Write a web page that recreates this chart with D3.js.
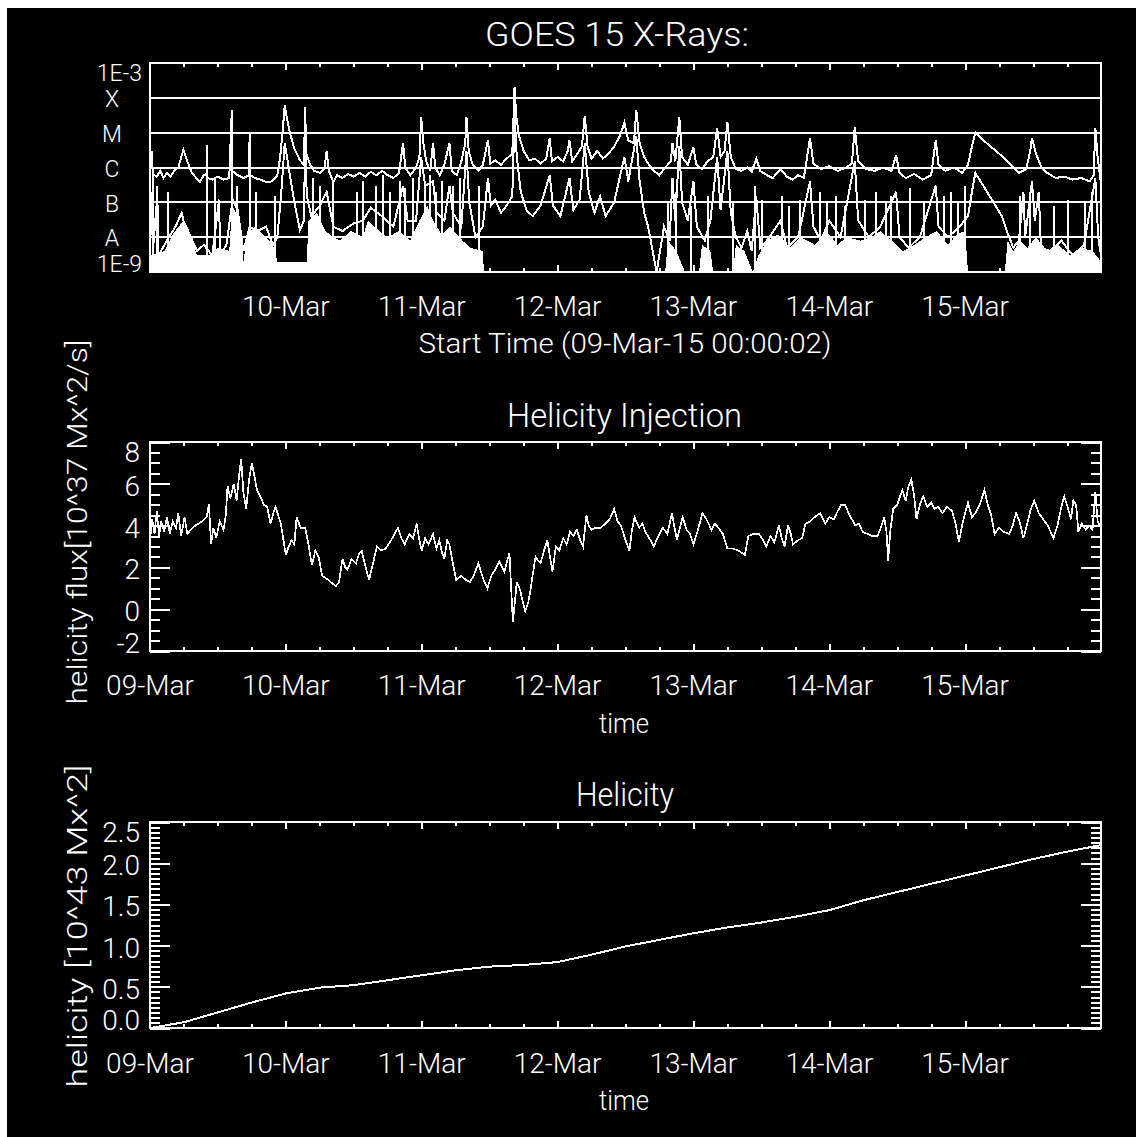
<!DOCTYPE html>
<html>
<head>
<meta charset="utf-8">
<script src="https://cdn.jsdelivr.net/npm/d3@7"></script>
<style>
  body { margin: 0; background: #fff; }
  svg text { font-family: Roboto, "DejaVu Sans", sans-serif; font-weight: 300; fill: #fff; }
</style>
</head>
<body>
<div id="chart"></div>
<script>
/* GOES X-rays + helicity injection + helicity, 09-16 Mar 2015 */

const width = 1136,
  height = 1137;

const START = Date.UTC(2015, 2, 9); // 09-Mar-15 00:00
const hour = h => new Date(START + h * 3600e3);

// tick labels
const dayHours = [0, 24, 48, 72, 96, 120, 144];
const dayLabels = ["09-Mar", "10-Mar", "11-Mar", "12-Mar", "13-Mar", "14-Mar", "15-Mar"];
const goesBands = ["X", "M", "C", "B", "A"];
const goesBandFlux = [1e-4, 1e-5, 1e-6, 1e-7, 1e-8];
const injTicks = [-2, 0, 2, 4, 6, 8];
const helTicks = [0, 0.5, 1, 1.5, 2, 2.5];
const helTickLabels = ["0.0", "0.5", "1.0", "1.5", "2.0", "2.5"];

// GOES 1-8 A channel [hours from start, W/m^2]
const goesLong = [
  [0, 6e-7], [0.3, 3e-6], [0.5, 6.5e-7], [1.2, 5.5e-7], [1.8, 8e-7], [2.4, 5e-7], [3, 7e-7], [3.6, 5.5e-7],
  [4.3, 8e-7], [5, 1e-6], [5.9, 3.2e-6], [6.6, 1.5e-6], [7.4, 7e-7], [8.8, 3.8e-7], [9.5, 6e-7], [10, 6.5e-7],
  [10.05, 4.5e-6], [10.1, 1e-9], [10.15, 5e-7], [11, 4.5e-7], [12, 5.5e-7], [13, 4.5e-7], [14, 5e-7],
  [14.45, 4.5e-5], [14.5, 1e-9], [14.55, 8e-7], [15.5, 6e-7], [16.5, 5e-7], [17.5, 6e-7], [17.6, 1e-5],
  [17.65, 1e-9], [17.7, 6e-7], [18.5, 5e-7], [19.5, 4.5e-7], [20.6, 3.8e-7], [21.5, 4e-7], [22.5, 6e-7],
  [23, 2e-6], [23.5, 1.5e-5], [23.8, 6e-5], [24.2, 2.5e-5], [24.7, 1e-5], [25.5, 3.5e-6], [26.5, 1.6e-6],
  [27.2, 1.2e-6], [27.4, 5.5e-5], [27.6, 2.5e-6], [28.3, 1.2e-6], [29, 8e-7], [30, 7e-7], [30.8, 9e-7],
  [31.2, 3e-6], [31.6, 8e-7], [32.4, 3.8e-7], [33, 6e-7], [34, 5e-7], [35, 6.5e-7], [36, 5.5e-7], [37, 7e-7],
  [38, 5.5e-7], [39, 7.5e-7], [40, 6e-7], [41, 8e-7], [42, 6e-7], [43, 5e-7], [44, 7e-7], [44.7, 5e-6],
  [45.1, 1e-6], [46, 6e-7], [47, 1e-6], [47.6, 2e-6], [47.9, 2.8e-5], [48.3, 5e-6], [48.8, 1.5e-6],
  [49.5, 8e-7], [50, 5e-6], [50.4, 1e-6], [51.2, 6e-7], [52, 1.2e-6], [52.9, 5e-6], [53.3, 8e-7],
  [54.2, 6e-7], [55, 1.5e-6], [55.7, 5e-6], [55.9, 2.8e-5], [56.3, 3e-6], [57, 1.2e-6], [58, 8e-7],
  [58.8, 1.2e-6], [59.7, 6e-6], [60.1, 1.3e-6], [61, 1.6e-6], [62, 1.2e-6], [63, 1.8e-6], [64, 2.5e-6],
  [64.4, 2e-4], [64.7, 3e-5], [65.2, 8e-6], [66, 3e-6], [67, 1.6e-6], [68, 1.8e-6], [69, 1.3e-6],
  [70, 1.8e-6], [70.6, 7e-6], [71, 1.5e-6], [72, 2e-6], [73, 1.5e-6], [73.8, 3e-6], [74.1, 6e-6], [74.6, 1.5e-6],
  [75.5, 2.5e-6], [76.3, 4e-6], [76.8, 3e-5], [77.3, 4e-6], [78, 1.8e-6], [79, 3e-6], [80, 1.8e-6], [81, 2.5e-6],
  [82, 4e-6], [83, 8e-6], [83.8, 1.9e-5], [84.5, 6e-6], [85.5, 5e-6], [85.9, 4.5e-5], [86.5, 5e-6],
  [87.3, 2e-6], [88, 1.3e-6], [89, 8e-7], [90, 6e-7], [91, 1e-6], [92, 1.5e-6], [92.3, 5e-6], [92.8, 1.5e-6],
  [93.5, 2.8e-5], [94, 2e-6], [95, 1.2e-6], [96, 3.8e-6], [96.5, 1.2e-6], [97.5, 9e-7], [98.5, 1.5e-6],
  [99.5, 2e-6], [100.2, 1.35e-5], [100.8, 2e-6], [101.5, 3e-6], [102, 2e-5], [102.6, 2e-6], [103.5, 9e-7],
  [104.5, 8e-7], [105.5, 1e-6], [106.3, 7.5e-7], [107.1, 1.8e-6], [107.8, 8e-7], [109, 6e-7], [110, 5e-7],
  [111.4, 9e-7], [112.5, 5.5e-7], [113.5, 4.5e-7], [114.5, 6e-7], [115.5, 5e-7], [116.6, 7e-6],
  [117.2, 1.3e-6], [118.5, 9e-7], [120, 1.1e-6], [121.5, 8e-7], [123, 1e-6], [124, 1.3e-6], [124.5, 1.4e-5],
  [125.1, 1.5e-6], [126.5, 9e-7], [128, 8e-7], [129.5, 1e-6], [131, 8e-7], [131.8, 2.3e-6], [132.4, 7e-7],
  [133.5, 5e-7], [135, 6.5e-7], [136.5, 4.5e-7], [138, 6e-7], [138.8, 6e-6], [139.3, 1.2e-6], [140.5, 8e-7],
  [142, 1e-6], [143.5, 7e-7], [144.5, 1.2e-6], [145.2, 4e-6], [145.8, 1e-5], [147, 6.5e-6], [148.5, 4e-6],
  [150, 2.5e-6], [151.5, 1.5e-6], [152.5, 1e-6], [153.5, 7e-7], [154.8, 9e-7], [155.5, 3e-6], [155.8, 7e-6],
  [156.5, 2.5e-6], [157.5, 1e-6], [158.5, 7e-7], [160, 5e-7], [161.5, 5.5e-7], [163, 4.5e-7], [164.5, 5e-7],
  [166, 4e-7], [166.7, 6e-7], [167, 1.35e-5], [167.4, 2e-6], [168, 3.5e-7]
];

// GOES 0.5-4 A channel [hours, W/m^2]
const goesShort = [
  [0, 8e-9], [0.3, 2e-7], [0.5, 4e-9], [1.3, 1.5e-7], [1.5, 3e-9], [3, 8e-9], [4.5, 2e-8], [5.6, 5e-8],
  [5.9, 3e-8], [7, 1.2e-8], [8.3, 4e-9], [9.5, 6e-9], [11, 3e-9], [12.2, 1.2e-7], [12.4, 3e-9], [13.5, 6e-9],
  [14.6, 1.2e-7], [15.5, 6e-8], [16.5, 4e-9], [17.6, 2e-8], [19, 1.5e-8], [20.5, 2e-8], [21.7, 6e-9],
  [22.5, 1e-8], [23.2, 2e-7], [23.8, 5e-6], [24.5, 1e-6], [25.5, 1e-7], [26.5, 1.6e-8], [27.2, 3e-8],
  [27.4, 6e-6], [27.7, 1.5e-7], [28.5, 4e-8], [30, 8e-8], [31.2, 2e-7], [32.4, 2e-8], [34, 1.5e-8],
  [36, 2.5e-8], [37.6, 3e-8], [39, 7e-8], [41, 4e-8], [43, 2e-8], [44.7, 3e-7], [45.5, 3e-8], [47, 3e-8],
  [47.9, 2e-6], [48.6, 3e-7], [50, 4e-7], [50.6, 5e-8], [52, 3e-8], [52.9, 3e-7], [53.5, 5e-8], [55, 2e-8],
  [55.9, 3e-6], [56.4, 1e-7], [57.5, 1e-8], [58.8, 2e-8], [59.7, 5e-7], [60.2, 8e-8], [61, 1.2e-7],
  [62, 5e-8], [63, 8e-8], [64, 1.5e-7], [64.4, 3e-5], [64.8, 2e-6], [65.5, 2e-7], [66.5, 6e-8], [67.6, 4e-8],
  [69, 8e-8], [70.6, 6e-7], [71.2, 8e-8], [72.5, 4e-8], [74.1, 5e-7], [74.8, 6e-8], [75.9, 1.2e-7],
  [76.8, 5e-6], [77.5, 2e-7], [78.5, 5e-8], [79.5, 1.5e-7], [80.5, 4e-8], [82, 1e-7], [83.8, 2e-6],
  [84.5, 4e-7], [85.9, 8e-6], [86.5, 4e-7], [87.3, 5e-8], [88, 2e-8], [89.5, 1e-9], [90.8, 2e-8],
  [91.8, 8e-9], [92.3, 5e-7], [92.8, 3e-8], [93.5, 4e-6], [94, 1e-7], [95, 3e-8], [96, 4e-7], [96.6, 2e-8],
  [98, 8e-9], [99, 3e-8], [100.2, 2e-6], [100.8, 6e-8], [102, 3e-6], [102.6, 5e-8], [103.5, 1e-8],
  [104.5, 5e-9], [105.5, 1.5e-8], [106.3, 4e-9], [107.1, 1.5e-7], [107.8, 5e-9], [109, 8e-9], [111.4, 3e-8],
  [112.5, 5e-9], [114.5, 1e-8], [116.6, 4e-7], [117.2, 2e-8], [118.5, 8e-9], [120, 3e-8], [122, 1e-8],
  [124.5, 1.5e-6], [125.1, 3e-8], [127, 1e-8], [129, 2e-8], [131.8, 2e-7], [132.4, 1e-8], [134, 5e-9],
  [136, 1e-8], [138.8, 3e-7], [139.3, 2e-8], [141, 1e-8], [143, 2e-8], [144.5, 4e-8], [145.2, 2e-7],
  [145.8, 7e-7], [147.5, 2.5e-7], [149, 1e-7], [150.5, 4e-8], [151.5, 1.3e-8], [152.5, 5e-9], [153.5, 8e-9],
  [154.3, 2e-7], [154.6, 1e-8], [155.8, 4e-7], [156.3, 3e-8], [157, 2e-7], [157.4, 5e-9], [159, 4e-9],
  [161, 8e-9], [163, 3e-9], [165, 6e-9], [167, 5e-7], [167.5, 1e-8], [168, 3e-9]
];

// top of the dense noise band of the 0.5-4 A channel [hours, W/m^2]
const goesShortNoise = [
  [0, 3e-9], [2.6, 4e-9], [4, 1.2e-8], [5.9, 3e-8], [7.5, 8e-9], [8.3, 3e-9], [10.5, 3e-9], [12, 5e-9],
  [14, 4e-9], [14.5, 8e-8], [15.9, 3e-8], [16.5, 2e-9], [17.2, 1.2e-8], [18.5, 2e-8], [20, 1.2e-8],
  [21.7, 6e-9], [22.5, 2e-9], [27.7, 2e-9], [28, 3e-8], [29.5, 5e-8], [31, 1.5e-8], [32.4, 1e-8],
  [33.5, 8e-9], [35.5, 1.5e-8], [37.6, 1e-8], [38.5, 3e-8], [40.5, 1.5e-8], [42, 1e-8], [44, 1.5e-8],
  [46, 8e-9], [47.6, 3e-8], [49, 8e-8], [50, 3e-8], [51.5, 1.2e-8], [53, 2e-8], [55.2, 8e-9], [56.5, 5e-9],
  [58.8, 4e-9], [59, 1e-9], [91, 1e-9], [91.5, 8e-9], [93, 4e-9], [94.5, 1e-9], [97, 1e-9], [97.5, 6e-9],
  [99, 4e-9], [99.5, 1e-9], [103, 1e-9], [103.5, 6e-9], [105, 4e-9], [106.5, 1e-9], [107.5, 3e-9],
  [109, 8e-9], [111, 1.2e-8], [113, 5e-9], [115, 1e-8], [117.5, 6e-9], [119.5, 1.5e-8], [121.5, 6e-9],
  [123, 1e-8], [125.5, 8e-9], [127.5, 1e-8], [129, 1.5e-8], [131, 8e-9], [133, 4e-9], [135, 6e-9],
  [137, 1e-8], [139, 1.5e-8], [141, 6e-9], [142.5, 1.2e-8], [144, 1.5e-8], [144.5, 1e-9], [151, 1e-9],
  [151.5, 8e-9], [152.5, 4e-9], [153.7, 8e-9], [155, 5e-9], [156.5, 1e-8], [158.5, 4e-9], [160.5, 6e-9],
  [162.5, 3e-9], [164.5, 5e-9], [166.5, 4e-9], [168, 2e-9]
];

// isolated spikes of the 0.5-4 A channel, drawn from the floor [hours, peak W/m^2]
const goesShortSpikes = [
  [0.6, 6e-7], [1.2, 3e-7], [3.2, 2e-7], [11.5, 5e-7], [15.3, 3e-7], [18.8, 2e-7], [22.1, 1.5e-7],
  [28.8, 5e-7], [30, 3e-7], [32.3, 4e-7], [36.5, 2e-7], [37.6, 4e-7], [40, 3e-7], [41.2, 6e-7],
  [42.4, 2e-7], [44.1, 4e-7], [45, 2.5e-7], [46.5, 5e-7], [48.5, 3e-7], [49.4, 6e-7], [50.6, 2e-7],
  [51.5, 4e-7], [53.5, 3e-7], [54.7, 5e-7], [58.2, 3e-7], [91.5, 1e-7], [93, 2e-7], [95.5, 8e-8],
  [98.5, 1.5e-7], [103, 1e-7], [106.9, 3e-7], [108.1, 1.2e-7], [111.7, 1.5e-7], [112.9, 8e-8],
  [114.8, 1.2e-7], [118.4, 2e-7], [119.6, 1e-7], [121.2, 1.5e-7], [122.7, 8e-8], [126.3, 1.2e-7],
  [128.2, 2e-7], [130, 1e-7], [130.9, 1.5e-7], [134.2, 2.5e-7], [136.7, 1e-7], [140.3, 1.5e-7],
  [141.5, 2e-7], [142.7, 1e-7], [143.9, 3e-7], [153.7, 1.5e-7], [155.5, 2e-7], [159.7, 8e-8],
  [162.2, 1.2e-7], [165.2, 1e-7], [166.4, 2e-7]
];

// helicity injection rate [hours, 10^37 Mx^2/s]
const injectionRate = [
  [0, 3.3], [0.4, 4.3], [0.8, 3.6], [1.2, 4.7], [1.6, 3.5], [2, 4.2], [2.5, 3.7], [3, 4.4], [3.5, 3.6],
  [4, 4.2], [4.6, 3.9], [5, 4.6], [5.5, 3.5], [6.1, 4.4], [6.6, 3.6], [7.2, 3.8], [8, 4], [9.2, 4.2],
  [10, 4.4], [10.4, 5.05], [10.8, 3.1], [11.2, 3.9], [11.7, 3.4], [12.3, 4.2], [13, 3.8], [13.4, 4.5],
  [13.7, 5.9], [14.2, 5.3], [14.8, 6], [15.3, 5.2], [15.7, 6.3], [16.1, 7.2], [16.5, 5.6], [17, 4.8],
  [17.5, 6.2], [18, 7], [18.5, 6.3], [18.9, 5.7], [19.5, 5.4], [20.1, 5], [20.7, 4.9], [21.3, 4.1],
  [21.8, 4.6], [22.2, 4.9], [23.1, 4.1], [24, 2.6], [24.5, 3], [25, 3.3], [25.5, 3.1], [25.9, 4.4],
  [26.6, 3.9], [27.4, 3.9], [28, 3.1], [28.6, 2.1], [29.2, 2.8], [29.8, 2.5], [30.4, 1.6], [31.5, 1.4],
  [32.8, 1.1], [33.4, 1.3], [34, 2.4], [34.5, 2], [34.9, 1.9], [35.6, 2.4], [36.4, 2.2], [37, 2.7],
  [37.4, 2.8], [38, 2.1], [38.7, 1.4], [39.4, 2.2], [40.1, 3], [40.8, 2.8], [41.6, 2.9], [42.4, 3.2],
  [43, 3.5], [43.8, 3.9], [44.4, 3.4], [45, 3.1], [45.8, 3.6], [46.5, 3.4], [47.1, 4.1], [47.6, 3.3],
  [48, 2.8], [48.6, 3.4], [49.2, 3.1], [50, 3.6], [50.6, 2.9], [51.1, 3.3], [51.6, 2.7], [52, 2.4],
  [52.5, 3.3], [52.9, 3.1], [53.5, 2.2], [54.1, 1.4], [55, 1.6], [55.8, 1.4], [56.5, 1.3], [57.2, 1.6],
  [58, 2.2], [58.8, 1.5], [59.6, 1], [60.3, 1.6], [61, 1.9], [61.7, 2.3], [62.2, 2], [62.6, 1.8],
  [63.1, 2.3], [63.5, 2.7], [63.8, 1], [64.1, -0.6], [64.4, 0.2], [64.8, 1.3], [65.4, 0.9], [65.8, 0.4],
  [66.3, -0.1], [66.8, 0.3], [67.2, 0.9], [67.7, 1.8], [68.1, 2.5], [68.6, 2.3], [69, 2.2], [69.6, 2.8],
  [70.2, 3.3], [70.6, 2.6], [71.1, 1.8], [71.7, 3], [72.3, 2.8], [73, 3.4], [73.6, 3.1], [74.2, 3.7],
  [74.8, 3.5], [75.4, 3.8], [76, 3.3], [76.5, 3], [77.1, 4.5], [77.5, 4], [78, 3.8], [78.8, 3.9],
  [79.6, 3.9], [80.5, 4.1], [81.2, 4.3], [82, 4.8], [82.6, 4.2], [83.2, 4], [84, 3.3], [84.7, 2.8],
  [85.1, 3.7], [85.6, 4.4], [86.4, 3.9], [87, 4.1], [87.5, 3.7], [88.2, 3.4], [89, 3], [89.8, 3.5],
  [90.6, 3.9], [91.4, 3.6], [92.2, 4.6], [92.6, 4], [93.1, 3.3], [93.6, 3.9], [94.1, 4.4], [94.8, 3.8],
  [95.4, 3.6], [96, 3.1], [96.8, 3.8], [97.6, 4.6], [98.3, 4.3], [99.2, 3.8], [99.8, 4.1], [100.4, 3.9],
  [101.2, 3.6], [102, 2.9], [103, 2.9], [104, 2.8], [105.1, 2.6], [105.7, 3.5], [106.6, 3.6], [107.6, 3.6],
  [108.3, 3.3], [108.9, 3], [109.6, 3.5], [110.3, 3.2], [111.1, 4], [111.6, 3.4], [112.1, 3], [112.7, 4],
  [113.2, 3.6], [113.6, 3.1], [114.5, 3.3], [115.2, 3.4], [115.8, 4.1], [116.6, 4.2], [117.4, 4.4],
  [118.4, 4.6], [119.3, 4.1], [120, 4.4], [120.8, 4.3], [121.5, 4.7], [122.1, 5], [122.8, 5], [123.4, 4.6],
  [124, 4.3], [124.6, 4], [125.2, 4.1], [125.9, 3.7], [126.8, 3.6], [127.6, 3.5], [128.5, 3.5], [129.1, 3.9],
  [129.7, 4.4], [130.1, 3.7], [130.4, 2.3], [130.8, 3.8], [131.3, 4.8], [132, 5], [132.9, 5.7], [133.5, 5.2],
  [134, 5.9], [134.5, 6.2], [135, 5.4], [135.4, 4.3], [136, 5], [136.6, 5.4], [137.3, 4.9], [138, 5.1],
  [138.6, 4.8], [139.2, 4.9], [140, 4.6], [140.8, 4.9], [141.7, 4.7], [142.3, 4.1], [142.9, 3.2],
  [143.6, 4.2], [144.5, 5.1], [145.2, 4.4], [145.8, 4.6], [146.6, 5], [147.4, 5.7], [148, 5], [148.6, 4.5],
  [149.2, 3.6], [150, 3.9], [150.8, 3.7], [151.8, 3.6], [152.4, 4], [153, 4.6], [153.6, 4.2], [154.3, 3.4],
  [154.9, 4], [155.5, 4.7], [156.2, 5.2], [157, 4.6], [157.8, 4.3], [158.6, 4], [159.6, 3.4], [160.3, 4],
  [161, 4.9], [161.5, 5.4], [162.2, 4.8], [162.7, 4.3], [163.1, 5.2], [163.6, 5], [164, 3.7], [164.6, 4.1],
  [165.3, 3.8], [165.9, 4], [166.5, 3.8], [167, 5.6], [167.4, 4.2], [168, 3.9]
];

// accumulated helicity [hours, 10^43 Mx^2]
const helicity = [
  [0, 0], [6, 0.07], [12, 0.19], [18, 0.31], [24, 0.42], [30, 0.49], [36, 0.52], [42, 0.58], [48, 0.64],
  [54, 0.7], [60, 0.745], [66, 0.765], [72, 0.8], [78, 0.89], [84, 0.99], [90, 1.07], [96, 1.15],
  [102, 1.22], [108, 1.28], [114, 1.35], [120, 1.43], [126, 1.55], [132, 1.65], [138, 1.75], [144, 1.85],
  [150, 1.95], [156, 2.05], [162, 2.14], [168, 2.22]
];

const left = 150, right = 1101;
const goesBox = { top: 63, bottom: 272 },
  injBox = { top: 442, bottom: 651 },
  helBox = { top: 822, bottom: 1028 };

const svg = d3.select("#chart")
  .append("svg")
  .attr("width", width)
  .attr("height", height)
  .style("display", "block");

// black plot window (reference has a thin white strip top/left)
svg.append("rect")
  .attr("x", 7).attr("y", 8)
  .attr("width", width - 7).attr("height", height - 8)
  .attr("fill", "#000");

let x = d3.scaleUtc()
  .domain([hour(0), hour(168)])
  .range([left, right]);

let yGoes = d3.scaleLog()
  .domain([1e-9, 1e-3])
  .range([goesBox.bottom, goesBox.top]);

let yInj = d3.scaleLinear()
  .domain([-2, 8])
  .range([injBox.bottom, injBox.top]);

let yHel = d3.scaleLinear()
  .domain([0, 2.5])
  .range([helBox.bottom, helBox.top]);

function frame(box) {
  svg.append("rect")
    .attr("x", left).attr("y", box.top)
    .attr("width", right - left).attr("height", box.bottom - box.top)
    .attr("fill", "none")
    .attr("stroke", "#fff")
    .attr("stroke-width", 2)
    .attr("shape-rendering", "crispEdges");
}

function tickGroup(transform, axis) {
  svg.append("g")
    .attr("transform", transform)
    .attr("color", "#fff")
    .attr("shape-rendering", "crispEdges")
    .call(axis.tickFormat(""))
    .call(g => g.select(".domain").remove())
    .call(g => g.selectAll("line").attr("stroke-width", 2));
}

// 6-hour minor ticks and day ticks on top and bottom edges
function timeTicks(box) {
  const minor = d3.range(6, 168, 6).map(hour);
  const major = dayHours.slice(1).map(hour);
  for (const [vals, len] of [[minor, 4], [major, 7]]) {
    tickGroup(`translate(0,${box.top})`, d3.axisTop(x).tickValues(vals).tickSize(-len));
    tickGroup(`translate(0,${box.bottom})`, d3.axisBottom(x).tickValues(vals).tickSize(-len));
  }
}

function valueTicks(y, minor, major) {
  for (const [vals, len] of [[minor, 10], [major, 20]]) {
    tickGroup(`translate(${left},0)`, d3.axisRight(y).tickValues(vals).tickSize(len));
    tickGroup(`translate(${right},0)`, d3.axisLeft(y).tickValues(vals).tickSize(len));
  }
}

// labels sit on their tick, but are kept inside the box height
function yLabels(y, box, vals, fmt, xEnd, size) {
  svg.append("g")
    .selectAll("text")
    .data(vals)
    .join("text")
    .attr("x", xEnd)
    .attr("y", d => Math.max(box.top + 10, Math.min(box.bottom - 8, y(d) + 2)))
    .attr("dy", "0.36em")
    .attr("text-anchor", "end")
    .attr("font-size", size)
    .text(fmt);
}

function dateLabels(hours, baseline) {
  svg.append("g")
    .selectAll("text")
    .data(hours)
    .join("text")
    .attr("x", d => x(hour(d)))
    .attr("y", baseline)
    .attr("text-anchor", "middle")
    .attr("font-size", 28)
    .text(d => dayLabels[dayHours.indexOf(d)]);
}

function label(txt, cx, baseline, size, len) {
  const t = svg.append("text")
    .attr("x", cx).attr("y", baseline)
    .attr("text-anchor", "middle")
    .attr("font-size", size)
    .text(txt);
  if (len) t.attr("textLength", len).attr("lengthAdjust", "spacingAndGlyphs");
  return t;
}

function yTitle(txt, cx, cy, len) {
  svg.append("text")
    .attr("transform", `translate(${cx},${cy}) rotate(-90)`)
    .attr("text-anchor", "middle")
    .attr("font-size", 28)
    .attr("textLength", len)
    .attr("lengthAdjust", "spacingAndGlyphs")
    .text(txt);
}

/* ---- GOES panel ---- */
const goesLine = d3.line()
  .x(d => x(hour(d[0])))
  .y(d => yGoes(Math.max(d[1], 1e-9)));

const noiseArea = d3.area()
  .x(d => x(hour(d[0])))
  .y0(yGoes(1e-9))
  .y1(d => yGoes(Math.max(d[1], 1e-9)));

svg.append("path")
  .datum(goesShortNoise)
  .attr("d", noiseArea)
  .attr("fill", "#fff")
  .attr("shape-rendering", "crispEdges");

svg.append("g")
  .selectAll("line")
  .data(goesShortSpikes)
  .join("line")
  .attr("x1", d => x(hour(d[0]))).attr("x2", d => x(hour(d[0])))
  .attr("y1", yGoes(1e-9)).attr("y2", d => yGoes(d[1]))
  .attr("stroke", "#fff")
  .attr("stroke-width", 2)
  .attr("shape-rendering", "crispEdges");

for (const series of [goesShort, goesLong]) {
  svg.append("path")
    .datum(series)
    .attr("d", goesLine)
    .attr("fill", "none")
    .attr("stroke", "#fff")
    .attr("stroke-width", 2)
    .attr("shape-rendering", "crispEdges");
}

// class level lines
svg.append("g")
  .selectAll("line")
  .data(goesBandFlux)
  .join("line")
  .attr("x1", left).attr("x2", right)
  .attr("y1", d => yGoes(d)).attr("y2", d => yGoes(d))
  .attr("stroke", "#fff")
  .attr("stroke-width", 2)
  .attr("shape-rendering", "crispEdges");

frame(goesBox);
timeTicks(goesBox);

yLabels(yGoes, goesBox, [1e-3, 1e-9], d => d === 1e-3 ? "1E-3" : "1E-9", 142, 23);
svg.append("g")
  .selectAll("text")
  .data(goesBands)
  .join("text")
  .attr("x", 112)
  .attr("y", (d, i) => yGoes(goesBandFlux[i]) + 1)
  .attr("dy", "0.36em")
  .attr("text-anchor", "middle")
  .attr("font-size", 23)
  .text(d => d);

label("GOES 15 X-Rays:", 617, 46, 34, 264);
dateLabels(dayHours.slice(1), 316);
label("Start Time (09-Mar-15 00:00:02)", 625, 353, 28, 413);

/* ---- helicity injection panel ---- */
svg.append("path")
  .datum(injectionRate)
  .attr("d", d3.line().x(d => x(hour(d[0]))).y(d => yInj(d[1])))
  .attr("fill", "none")
  .attr("stroke", "#fff")
  .attr("stroke-width", 1.7)
  .attr("shape-rendering", "crispEdges");

frame(injBox);
timeTicks(injBox);
valueTicks(yInj, d3.range(-2, 8.01, 0.5), injTicks);
yLabels(yInj, injBox, injTicks, d => d, 140, 28);

label("Helicity Injection", 624.5, 427, 34, 235);
dateLabels(dayHours, 695);
label("time", 624, 733, 28, 50);
yTitle("helicity flux[10^37  Mx^2/s]", 87, 522, 365);

/* ---- helicity panel ---- */
svg.append("path")
  .datum(helicity)
  .attr("d", d3.line().x(d => x(hour(d[0]))).y(d => yHel(d[1])))
  .attr("fill", "none")
  .attr("stroke", "#fff")
  .attr("stroke-width", 2)
  .attr("shape-rendering", "crispEdges");

frame(helBox);
timeTicks(helBox);
valueTicks(yHel, d3.range(0, 2.501, 0.0625), helTicks);
yLabels(yHel, helBox, helTicks, d => helTickLabels[helTicks.indexOf(d)], 140, 28);

label("Helicity", 625, 806, 34, 98);
dateLabels(dayHours, 1073);
label("time", 624, 1110, 28, 50);
yTitle("helicity [10^43  Mx^2]", 87, 926, 323);
</script>
</body>
</html>
